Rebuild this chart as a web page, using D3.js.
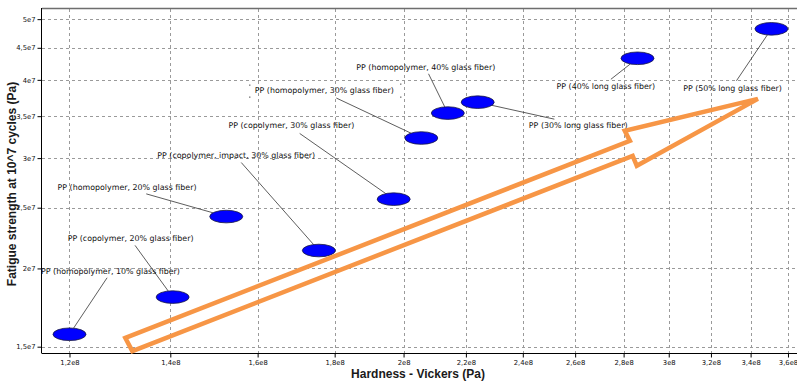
<!DOCTYPE html>
<html>
<head>
<meta charset="utf-8">
<script src="https://cdn.jsdelivr.net/npm/d3@7/dist/d3.min.js"></script>
<style>
  html, body { margin: 0; padding: 0; background: #fff; }
  svg { display: block; }
</style>
</head>
<body>
<svg id="chart" width="797" height="382"></svg>
<script>
// Polypropylene grades: Vickers hardness vs. fatigue strength at 10^7 cycles
const grades = [
  "PP (homopolymer, 10% glass fiber)",
  "PP (copolymer, 20% glass fiber)",
  "PP (homopolymer, 20% glass fiber)",
  "PP (copolymer, impact, 30% glass fiber)",
  "PP (copolymer, 30% glass fiber)",
  "PP (homopolymer, 30% glass fiber)",
  "PP (homopolymer, 40% glass fiber)",
  "PP (30% long glass fiber)",
  "PP (40% long glass fiber)",
  "PP (50% long glass fiber)"
];
const hardness = [1.2e8, 1.405e8, 1.525e8, 1.757e8, 1.97e8, 2.055e8, 2.14e8, 2.24e8, 2.86e8, 3.51e8];
const fatigue  = [1.57e7, 1.80e7, 2.42e7, 2.136e7, 2.58e7, 3.23e7, 3.54e7, 3.685e7, 4.33e7, 4.825e7];

const xTicks = [1.2e8, 1.4e8, 1.6e8, 1.8e8, 2e8, 2.2e8, 2.4e8, 2.6e8, 2.8e8, 3e8, 3.2e8, 3.4e8, 3.6e8];
const xTickLabels = ["1,2e8", "1,4e8", "1,6e8", "1,8e8", "2e8", "2,2e8", "2,4e8", "2,6e8", "2,8e8", "3e8", "3,2e8", "3,4e8", "3,6e8"];
const yTicks = [1.5e7, 2e7, 2.5e7, 3e7, 3.5e7, 4e7, 4.5e7, 5e7];
const yTickLabels = ["1,5e7", "2e7", "2,5e7", "3e7", "3,5e7", "4e7", "4,5e7", "5e7"];

// Trend arrow outline, in data units (hardness, fatigue strength)
const arrowHardness = [1.307e8, 2.827e8, 2.805e8, 3.438e8, 2.857e8, 2.839e8, 1.321e8];
const arrowFatigue  = [1.549e7, 3.196e7, 3.316e7, 3.73e7, 2.916e7, 3.025e7, 1.476e7];

// Label placement (offset of label centre from its point, and where the leader line leaves the label)
const labelOffset = [
  [41, -63.3], [-42, -59], [-99.2, -29.4], [-82.6, -95.4], [-102.3, -73.3],
  [-97, -47.6], [-22, -46], [100.5, 23.4], [-31.6, 28], [-38.9, 59.3]
];
const leaderStart = [
  [-3.4, 6.8], [4.4, 7.3], [19.2, 6.7], [5, 7.4], [8.3, 7.6],
  [12, 7.6], [2.7, 6.7], [-23.8, -6.4], [5, -7], [3.9, -7.3]
];

const plot = { left: 42, right: 797, top: 9, bottom: 353 };

const svg = d3.select("#chart");

const x = d3.scaleLog().domain([1.1506e8, 3.65e8]).range([plot.left, plot.right]);
const y = d3.scaleLog().domain([1.4656e7, 5.19e7]).range([plot.bottom, plot.top]);

// grid
const grid = svg.append("g").attr("stroke", "#9a9a9a").attr("stroke-width", 1).attr("stroke-dasharray", "3,3");
grid.selectAll("line.gx").data(xTicks).join("line")
  .attr("x1", d => Math.round(x(d)) + 0.5).attr("x2", d => Math.round(x(d)) + 0.5)
  .attr("y1", plot.top).attr("y2", plot.bottom);
grid.selectAll("line.gy").data(yTicks).join("line")
  .attr("y1", d => Math.round(y(d)) + 0.5).attr("y2", d => Math.round(y(d)) + 0.5)
  .attr("x1", plot.left).attr("x2", plot.right);

// top frame line
svg.append("line")
  .attr("x1", plot.left).attr("x2", plot.right)
  .attr("y1", plot.top - 0.5).attr("y2", plot.top - 0.5)
  .attr("stroke", "#6e6e6e").attr("stroke-width", 1.5);

// minor ticks
const xMinor = d3.range(1.15e8, 3.65e8, 2.5e6).filter(v => !xTicks.some(t => Math.abs(t - v) < 1e6));
const yMinor = d3.range(1.475e7, 5.19e7, 1.25e6).filter(v => !yTicks.some(t => Math.abs(t - v) < 1e5));

const tickFont = "'DejaVu Sans', sans-serif";

const gx = svg.append("g").attr("transform", `translate(0,${plot.bottom + 0.5})`);
gx.call(d3.axisBottom(x).tickValues(xMinor).tickFormat("").tickSize(2).tickSizeOuter(0));
gx.call(d3.axisBottom(x).tickValues(xTicks).tickFormat((d, i) => xTickLabels[i]).tickSize(4).tickSizeOuter(0).tickPadding(3));
gx.select(".domain").remove();
svg.append("line").attr("x1", plot.left).attr("x2", plot.right)
  .attr("y1", plot.bottom + 0.5).attr("y2", plot.bottom + 0.5).attr("stroke", "#000");

const gy = svg.append("g").attr("transform", `translate(${plot.left - 0.5},0)`);
gy.call(d3.axisLeft(y).tickValues(yMinor).tickFormat("").tickSize(2).tickSizeOuter(0));
gy.call(d3.axisLeft(y).tickValues(yTicks).tickFormat((d, i) => yTickLabels[i]).tickSize(4).tickSizeOuter(0).tickPadding(2));
gy.select(".domain").remove();
svg.append("line").attr("x1", plot.left - 0.5).attr("x2", plot.left - 0.5)
  .attr("y1", plot.top - 1).attr("y2", plot.bottom + 0.5).attr("stroke", "#000");

svg.selectAll(".tick line").attr("stroke", "#000");
svg.selectAll(".tick text").attr("font-family", tickFont).attr("font-size", "6.8px").attr("fill", "#111");

// axis titles
svg.append("text")
  .attr("x", 418).attr("y", 378)
  .attr("text-anchor", "middle")
  .attr("font-family", "'Liberation Sans', Arial, sans-serif")
  .attr("font-weight", "bold").attr("font-size", "12px").attr("fill", "#1a1a1a")
  .text("Hardness - Vickers (Pa)");
svg.append("text")
  .attr("transform", "translate(16,184) rotate(-90)")
  .attr("text-anchor", "middle")
  .attr("font-family", "'Liberation Sans', Arial, sans-serif")
  .attr("font-weight", "bold").attr("font-size", "12px").attr("fill", "#1a1a1a")
  .text("Fatigue strength at 10^7 cycles (Pa)");

// leader lines
const pts = grades.map((g, i) => ({ name: g, px: x(hardness[i]), py: y(fatigue[i]), i }));
const RX = 16.5, RY = 6.3;
const leaders = pts.map(p => {
  const lx = p.px + labelOffset[p.i][0] + leaderStart[p.i][0];
  const ly = p.py + labelOffset[p.i][1] + leaderStart[p.i][1];
  const dx = lx - p.px, dy = ly - p.py;
  const t = 1 / Math.sqrt((dx * dx) / (RX * RX) + (dy * dy) / (RY * RY));
  return { x1: lx, y1: ly, x2: p.px + dx * t, y2: p.py + dy * t };
});
svg.append("g").selectAll("line").data(leaders).join("line")
  .attr("x1", d => d.x1).attr("y1", d => d.y1).attr("x2", d => d.x2).attr("y2", d => d.y2)
  .attr("stroke", "#333").attr("stroke-width", 0.8);

// points
svg.append("g").selectAll("ellipse").data(pts).join("ellipse")
  .attr("cx", d => d.px).attr("cy", d => d.py)
  .attr("rx", RX).attr("ry", RY)
  .attr("fill", "#0000ff").attr("stroke", "#1a1a40").attr("stroke-width", 0.8);

// labels
svg.append("g").selectAll("text").data(pts).join("text")
  .attr("x", d => d.px + labelOffset[d.i][0])
  .attr("y", d => d.py + labelOffset[d.i][1])
  .attr("dy", "0.32em")
  .attr("text-anchor", "middle")
  .attr("font-family", "'DejaVu Sans', sans-serif")
  .attr("font-size", "7.9px").attr("fill", "#111")
  .text(d => d.name);

// selection marks around the highlighted label
const sel = pts[5];
const sx = sel.px + labelOffset[5][0], sy = sel.py + labelOffset[5][1];
const sw = 146;
[[-sw / 2 - 2, -6], [-sw / 2 - 2, 6], [sw / 2 + 3, -7], [sw / 2 + 3, 6]].forEach(([ox, oy]) => {
  svg.append("rect").attr("x", sx + ox).attr("y", sy + oy).attr("width", 1).attr("height", 1.5).attr("fill", "#555");
});

// trend arrow
const arrowPts = arrowHardness.map((h, i) => [x(h), y(arrowFatigue[i])]);
svg.append("path")
  .attr("d", d3.line()(arrowPts) + "Z")
  .attr("fill", "none").attr("stroke", "#f79646").attr("stroke-width", 4.5)
  .attr("stroke-linejoin", "miter");
</script>
</body>
</html>
